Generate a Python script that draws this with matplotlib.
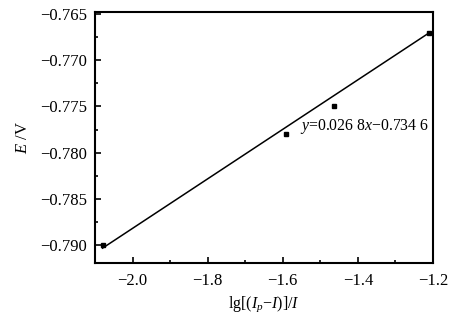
import matplotlib
matplotlib.use('Agg')
import matplotlib.pyplot as plt
import numpy as np
from matplotlib.ticker import MultipleLocator

plt.rcParams['font.family'] = ['Liberation Serif', 'DejaVu Serif']
plt.rcParams['mathtext.fontset'] = 'custom'
plt.rcParams['mathtext.rm'] = 'Liberation Serif'
plt.rcParams['mathtext.it'] = 'Liberation Serif:italic'
plt.rcParams['axes.unicode_minus'] = True

# data points
lg_x = [-2.08, -1.592, -1.464, -1.21]
E_v = [-0.790, -0.778, -0.775, -0.767]

# fitted line y = 0.0268x - 0.7346
slope = 0.0268
intercept = -0.7346
fit_x = np.array([-2.08, -1.21])
fit_y = slope * fit_x + intercept

fig = plt.figure(figsize=(4.54, 3.17), dpi=100)
ax = fig.add_axes([95/454, 1 - 263/317, (433-95)/454, (263-12)/317])

ax.plot(fit_x, fit_y, color='black', lw=1.1)
ax.plot(lg_x, E_v, 's', color='black', ms=2.2)

ax.text(-1.555, -0.7772, '$y$=0.026 8$x$\u22120.734 6', fontsize=11.3, va='center')

ax.set_xlim(-2.1, -1.2)
ax.set_ylim(-0.79195, -0.76478)
ax.xaxis.set_major_locator(MultipleLocator(0.2))
ax.xaxis.set_minor_locator(MultipleLocator(0.1))
ax.yaxis.set_major_locator(MultipleLocator(0.005))
ax.yaxis.set_minor_locator(MultipleLocator(0.0025))
ax.xaxis.set_major_formatter(matplotlib.ticker.FuncFormatter(lambda v, p: f'{v:.1f}'.replace('-', '\u2212')))
ax.yaxis.set_major_formatter(matplotlib.ticker.FuncFormatter(lambda v, p: f'{v:.3f}'.replace('-', '\u2212')))
ax.tick_params(which='both', direction='in', width=1.2, labelsize=12)
ax.tick_params(which='major', length=4)
ax.tick_params(which='minor', length=2)
ax.tick_params(axis='x', which='major', pad=7)
ax.tick_params(axis='y', which='major', pad=6)
for s in ax.spines.values():
    s.set_linewidth(1.5)

ax.set_ylabel('$E$ /V', fontsize=12, labelpad=6)
ax.set_xlabel('lg[($I_{p}$\u2212$I$)]/$I$', fontsize=11.5, labelpad=4)

fig.savefig('out.png', dpi=100, facecolor='white')
